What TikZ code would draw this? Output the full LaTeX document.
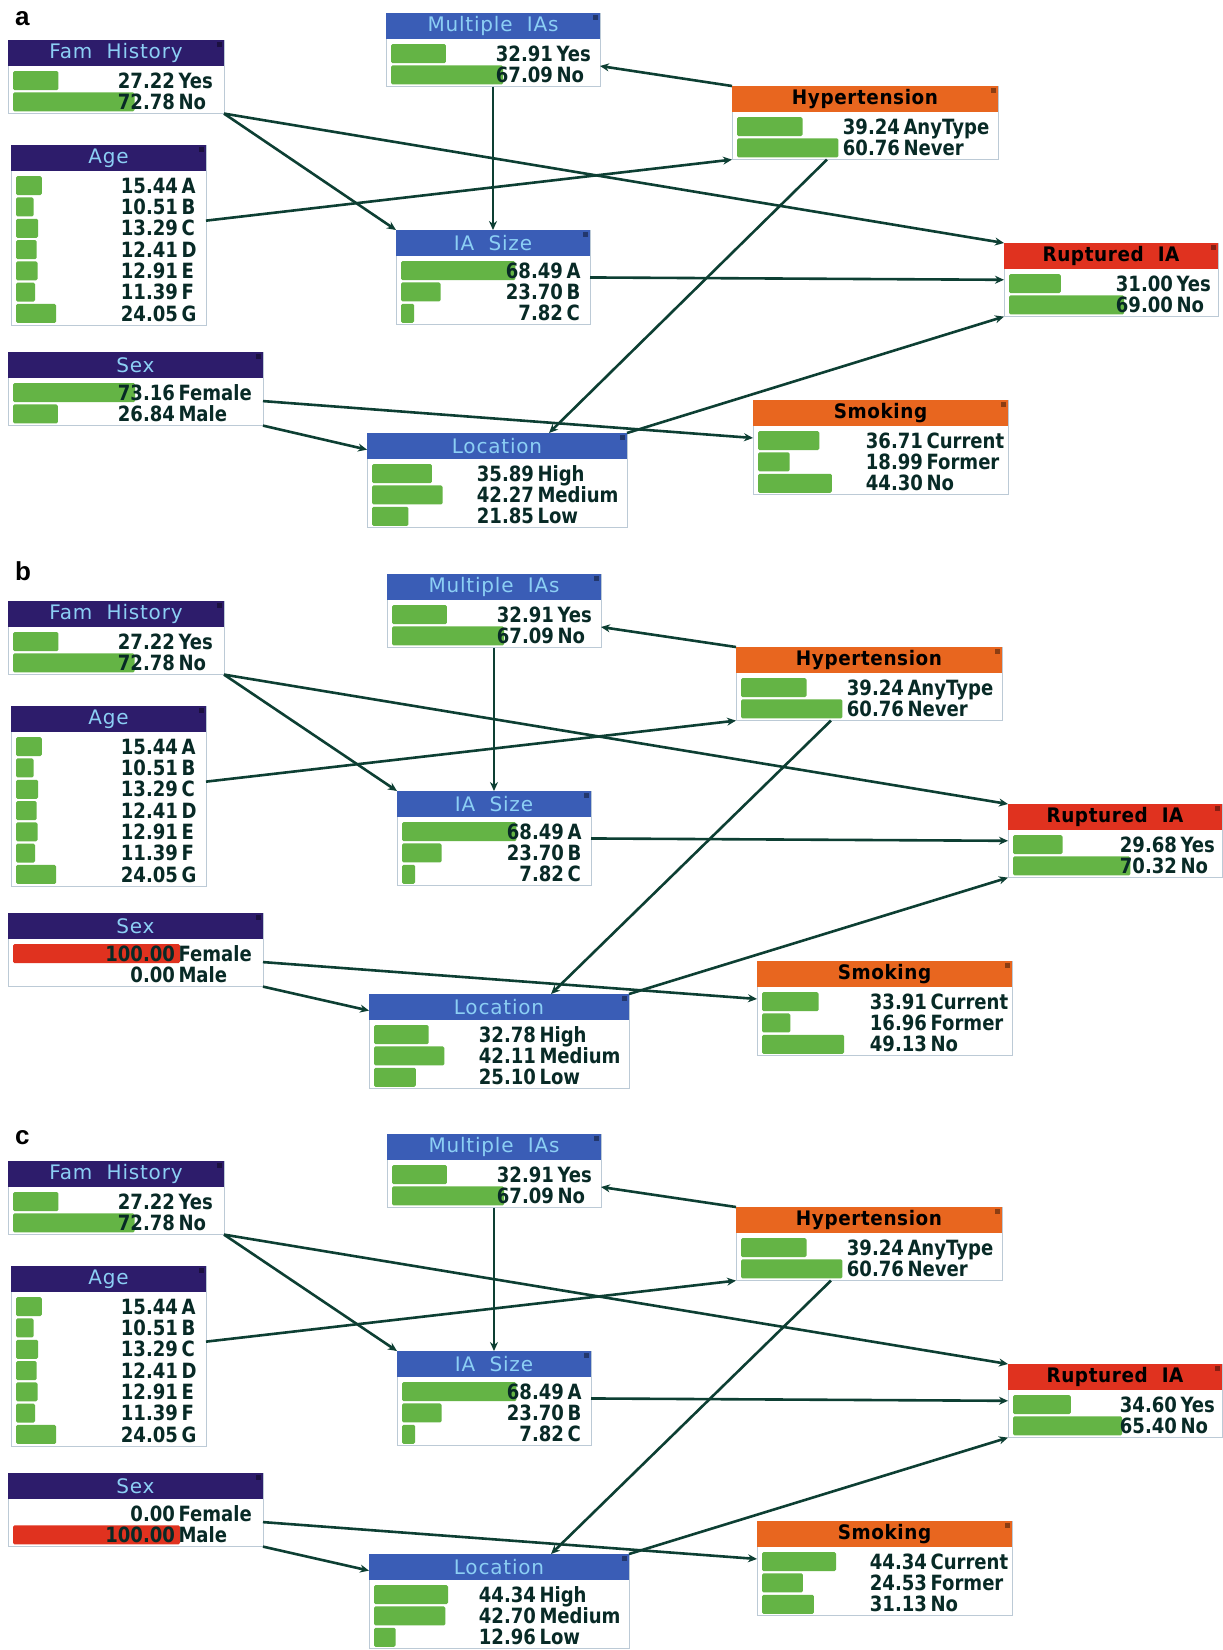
\documentclass[tikz,border=0pt]{standalone}
\usepackage{fontspec}
\setmainfont{DejaVu Sans}
\newfontfamily\tfont[LetterSpace=4]{DejaVu Sans}
\newfontfamily\tfontb[LetterSpace=3,FakeStretch=0.92]{DejaVu Sans}
\newfontfamily\vfont[FakeStretch=0.86]{DejaVu Sans}
\newfontfamily\plabfont{Liberation Sans}
\usetikzlibrary{arrows.meta,calc}
\definecolor{tdarkc}{HTML}{2D1C6B}
\definecolor{tbluec}{HTML}{3A5DB6}
\definecolor{torangec}{HTML}{E8661F}
\definecolor{tredc}{HTML}{E0321F}
\definecolor{tlight}{HTML}{8CCFF4}
\definecolor{gbar}{HTML}{64B445}
\definecolor{rbar}{HTML}{E0321F}
\definecolor{valc}{HTML}{082A26}
\definecolor{connc}{HTML}{0D3F33}
\definecolor{boxline}{HTML}{BCCAD6}
\tikzset{
  box/.style={draw=boxline, line width=0.9pt, fill=white, inner sep=0pt, outer sep=0pt},
  ttl/.style={inner sep=0pt, outer sep=0pt, font=\tfont\fontsize{20}{24}\selectfont},
  tdark/.style={ttl, fill=tdarkc, text=tlight},
  tblue/.style={ttl, fill=tbluec, text=tlight},
  torange/.style={ttl, fill=torangec, text=black, font=\tfontb\bfseries\fontsize{20}{24}\selectfont},
  tred/.style={ttl, fill=tredc, text=black, font=\tfontb\bfseries\fontsize{20}{24}\selectfont},
  num/.style={inner sep=0pt, outer sep=0pt, font=\vfont\bfseries\fontsize{21}{24}\selectfont, text=valc},
  conn/.style={draw=connc, line width=2.6pt, -{Stealth[length=9pt,width=8pt]}},
  plab/.style={inner sep=0pt, font=\plabfont\bfseries\fontsize{26}{30}\selectfont},
}
% #1 name, #2 x1, #3 x2, #4 ytop, #5 title style, #6 title, #7 number right edge, #8 rows, #9 row count
\newcommand\bnode[9]{%
  \pgfmathsetmacro\bw{(#3)-(#2)}%
  \pgfmathsetmacro\bh{31+#9*21.3}%
  \node[box, minimum width=\bw pt, minimum height=\bh pt, anchor=north west] (#1) at (#2,#4) {};
  \node[#5, minimum width=\bw pt, minimum height=26pt, anchor=north west] (#1-t) at (#2,#4) {#6};
  \fill[black, opacity=0.4] (#3-7,#4+2) rectangle (#3-2,#4+7);
  \foreach \v/\l/\c [count=\i] in {#8}{%
    \pgfmathsetmacro\yc{#4+30+(\i-0.5)*21.3}%
    \pgfmathsetmacro\bl{1.67*\v}%
    \ifdim\bl pt>0.5pt
      \fill[\c, rounded corners=1.5pt] (#2+5,\yc-9.5) rectangle ++(\bl,19);
    \fi
    \node[num, anchor=base east] (#1-n\i) at (#7,\yc+7.6) {\v};
    \node[num, anchor=base west] (#1-l\i) at (#7+3.5,\yc+7.6) {\l};
  }%
}
% #1 prefix, #2 dy, #3 dx right, #4 ruptured rows, #5 sex rows, #6 location rows, #7 smoking rows
\newcommand\panel[7]{%
\begin{scope}[shift={(0,#2)}]
  \bnode{#1-fam}{8}{224}{40}{tdark}{Fam~~History}{175}{27.22/Yes/gbar,72.78/No/gbar}{2}
  \bnode{#1-age}{11}{206}{145}{tdark}{Age}{178}{15.44/A/gbar,10.51/B/gbar,13.29/C/gbar,12.41/D/gbar,12.91/E/gbar,11.39/F/gbar,24.05/G/gbar}{7}
  \bnode{#1-sex}{8}{263}{352}{tdark}{Sex}{175}{#5}{2}
  \begin{scope}[shift={(#3/4,0)}]
    \bnode{#1-mul}{386}{600}{13}{tblue}{Multiple~~IAs}{553}{32.91/Yes/gbar,67.09/No/gbar}{2}
    \bnode{#1-ias}{396}{590}{230}{tblue}{IA~~Size}{563}{68.49/A/gbar,23.70/B/gbar,7.82/C/gbar}{3}
  \end{scope}
  \begin{scope}[shift={(#3/2,0)}]
    \bnode{#1-loc}{367}{627}{433}{tblue}{Location}{534}{#6}{3}
  \end{scope}
  \begin{scope}[shift={(#3,0)}]
    \bnode{#1-hyp}{732}{998}{86}{torange}{Hypertension}{900}{39.24/AnyType/gbar,60.76/Never/gbar}{2}
    \bnode{#1-rup}{1004}{1218}{243}{tred}{Ruptured~~IA}{1173}{#4}{2}
    \bnode{#1-smk}{753}{1008}{400}{torange}{Smoking}{923}{#7}{3}
  \end{scope}
  \coordinate (#1-ageo) at ($(#1-age.north east)!0.42!(#1-age.south east)$);
  \coordinate (#1-mulin) at ($(#1-mul.north east)!0.72!(#1-mul.south east)$);
  \coordinate (#1-hypo) at ($(#1-hyp.south west)!0.357!(#1-hyp.south east)$);
  \coordinate (#1-locin) at ($(#1-loc.north west)!0.7!(#1-loc.north east)$);
  \coordinate (#1-sexo) at ($(#1-sex.north east)!0.667!(#1-sex.south east)$);
  \coordinate (#1-smkin) at ($(#1-smk.north west)!0.4!(#1-smk.south west)$);
  \coordinate (#1-locw) at ($(#1-loc.north west)!0.175!(#1-loc.south west)$);
  \draw[conn] (#1-fam.south east) -- (#1-ias.north west);
  \draw[conn] (#1-fam.south east) -- (#1-rup.north west);
  \draw[conn] (#1-ageo) -- (#1-hyp.south west);
  \draw[conn] (#1-mul.south) -- (#1-ias.north);
  \draw[conn] (#1-hyp.north west) -- (#1-mulin);
  \draw[conn] (#1-hypo) -- (#1-locin);
  \draw[conn] (#1-ias.east) -- (#1-rup.west);
  \draw[conn] (#1-loc.north east) -- (#1-rup.south west);
  \draw[conn] (#1-sexo) -- (#1-smkin);
  \draw[conn] (#1-sex.south east) -- (#1-locw);
\end{scope}}

\begin{document}
\begin{tikzpicture}[x=1pt,y=-1pt]
  \fill[white] (0,0) rectangle (1223,1650);
  \useasboundingbox (0,0) rectangle (1223,1650);
  \panel{a}{0}{0}{31.00/Yes/gbar,69.00/No/gbar}{73.16/Female/gbar,26.84/Male/gbar}{35.89/High/gbar,42.27/Medium/gbar,21.85/Low/gbar}{36.71/Current/gbar,18.99/Former/gbar,44.30/No/gbar}
  \panel{b}{561}{4}{29.68/Yes/gbar,70.32/No/gbar}{100.00/Female/rbar,0.00/Male/gbar}{32.78/High/gbar,42.11/Medium/gbar,25.10/Low/gbar}{33.91/Current/gbar,16.96/Former/gbar,49.13/No/gbar}
  \panel{c}{1121}{4}{34.60/Yes/gbar,65.40/No/gbar}{0.00/Female/gbar,100.00/Male/rbar}{44.34/High/gbar,42.70/Medium/gbar,12.96/Low/gbar}{44.34/Current/gbar,24.53/Former/gbar,31.13/No/gbar}
  \node[plab, anchor=base west] (la) at (15,25) {a};
  \node[plab, anchor=base west] (lb) at (15,580) {b};
  \node[plab, anchor=base west] (lc) at (15,1144) {c};
\end{tikzpicture}
\end{document}
